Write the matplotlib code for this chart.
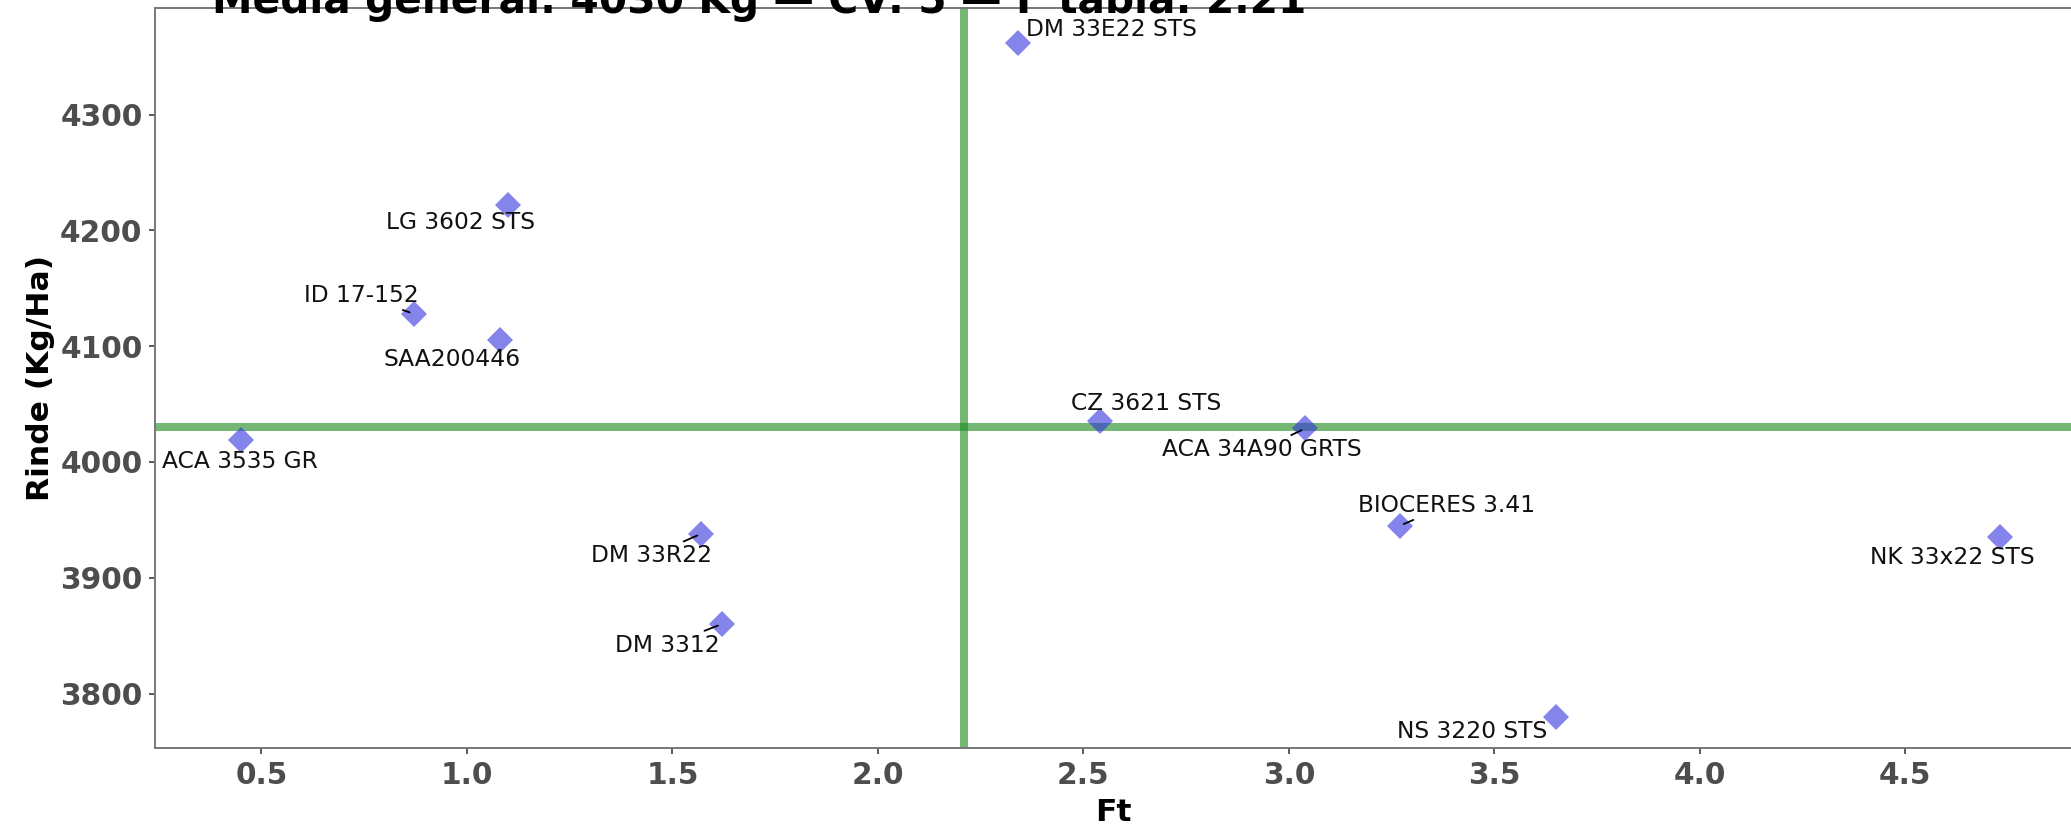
import numpy as np
import matplotlib
matplotlib.use("Agg")
from matplotlib import pyplot as plt

# data
names = ["DM 33E22 STS", "LG 3602 STS", "ID 17-152", "SAA200446", "ACA 3535 GR",
         "DM 33R22", "DM 3312", "CZ 3621 STS", "ACA 34A90 GRTS", "BIOCERES 3.41",
         "NK 33x22 STS", "NS 3220 STS"]
ft = [2.34, 1.10, 0.87, 1.08, 0.45, 1.57, 1.62, 2.54, 3.04, 3.27, 4.73, 3.65]
rinde = [4362, 4222, 4128, 4105, 4019, 3938, 3860, 4035, 4029, 3945, 3935, 3780]
media_general = 4030
f_tabla = 2.21
cv = 5
xticks = [0.5, 1.0, 1.5, 2.0, 2.5, 3.0, 3.5, 4.0, 4.5]
yticks = [3800, 3900, 4000, 4100, 4200, 4300]

# label offsets (pixels) as placed by the repel step, and which ones get a segment
lab_dx = [94, -48, -52, -48, -1, -50, -54, 46, -44, 47, -48, -84]
lab_dy = [13, -18, 18, -19, -22, -22, -21, 18, -21, 20, -20, -15]
segment = [False, False, True, False, False, True, True, False, True, True, False, False]

plt.rcParams['font.family'] = ['DejaVu Sans']

fig = plt.figure(figsize=(20.71, 8.35), dpi=100)
ax = fig.add_axes([155/2071, 1 - 748/835, 1 - 155/2071, (748 - 8)/835])

ax.axhline(media_general, color='#1a8a1a', alpha=0.6, lw=5.8, zorder=1)
ax.axvline(f_tabla, color='#1a8a1a', alpha=0.6, lw=5.8, zorder=1)
ax.plot(ft, rinde, 'D', ms=13.5, color='#3333DD', alpha=0.6, mew=0, zorder=3)

for i in range(len(names)):
    if segment[i]:
        ax.annotate(names[i], (ft[i], rinde[i]), xytext=(lab_dx[i], lab_dy[i]),
                    textcoords='offset pixels', ha='center', va='center',
                    fontsize=16.8, color='#111111', zorder=4,
                    arrowprops=dict(arrowstyle='-', color='black', lw=1.3,
                                    shrinkA=0, shrinkB=3))
    else:
        ax.annotate(names[i], (ft[i], rinde[i]), xytext=(lab_dx[i], lab_dy[i]),
                    textcoords='offset pixels', ha='center', va='center',
                    fontsize=16.8, color='#111111', zorder=4)

ax.set_xlim(0.241, 4.903)
ax.set_ylim(3753, 4392)
ax.set_xticks(xticks)
ax.set_yticks(yticks)
ax.set_xticklabels(["%.1f" % v for v in xticks])
ax.tick_params(axis='both', labelsize=21.3, colors='#4D4D4D', length=4, width=1.3, pad=5)
for lab in ax.get_xticklabels() + ax.get_yticklabels():
    lab.set_fontweight('bold')
for s in ['left', 'bottom', 'top']:
    ax.spines[s].set_color('#777777')
    ax.spines[s].set_linewidth(1.4)
ax.spines['right'].set_visible(False)

ax.set_xlabel("Ft", fontsize=22.6, fontweight='bold', color='black', labelpad=6)
ax.set_ylabel("Rinde (Kg/Ha)", fontsize=22.6, fontweight='bold', color='black', labelpad=4)

# title sits mostly above the canvas, like in the reference
fig.text(212/2071, 1 - 13/835,
         "Media general: %d Kg \u2014 CV: %d \u2014 F tabla: %.2f" % (media_general, cv, f_tabla),
         fontsize=29.3, fontweight='bold', color='black', va='baseline', ha='left')

fig.savefig("out.png", dpi=100)
